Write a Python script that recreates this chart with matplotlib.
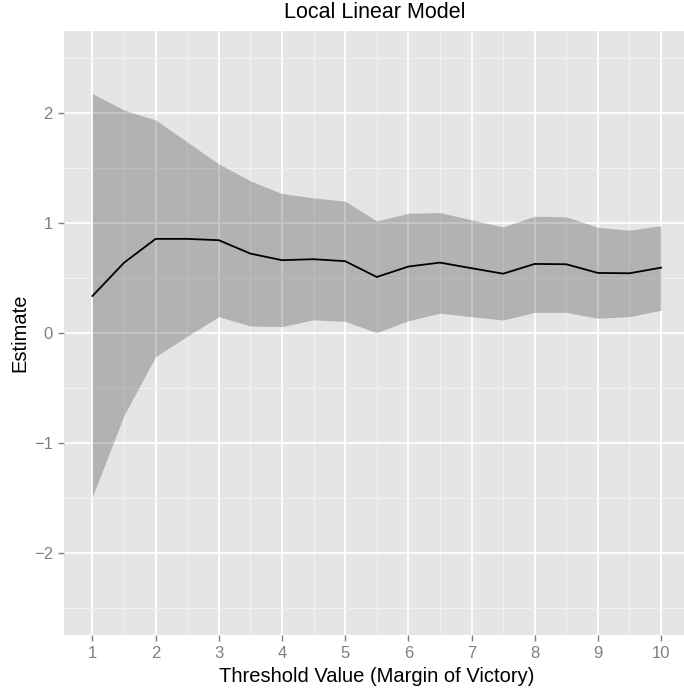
import matplotlib
matplotlib.use("Agg")
import matplotlib.pyplot as plt
import numpy as np

threshold = [1, 1.5, 2, 2.5, 3, 3.5, 4, 4.5, 5, 5.5, 6, 6.5, 7, 7.5, 8, 8.5, 9, 9.5, 10]
estimate = [0.337, 0.64, 0.857, 0.857, 0.845, 0.723, 0.663, 0.672, 0.654, 0.51,
            0.605, 0.641, 0.59, 0.54, 0.629, 0.626, 0.547, 0.544, 0.595]
upper = [2.18, 2.03, 1.94, 1.74, 1.54, 1.385, 1.27, 1.23, 1.20, 1.02,
         1.09, 1.097, 1.03, 0.966, 1.064, 1.057, 0.963, 0.936, 0.978]
lower = [-1.49, -0.75, -0.216, -0.03, 0.149, 0.064, 0.058, 0.12, 0.106, 0.003,
         0.112, 0.18, 0.149, 0.118, 0.188, 0.188, 0.134, 0.149, 0.207]
xticks = [1, 2, 3, 4, 5, 6, 7, 8, 9, 10]
yticks = [-2, -1, 0, 1, 2]

plt.rcParams['font.family'] = ['Liberation Sans', 'DejaVu Sans']

W, H = 684, 690
fig = plt.figure(figsize=(W / 100, H / 100), dpi=100)
# panel spans px 64..689 horizontally (cropped at the right edge), 31..635 vertically
ax = fig.add_axes([64 / W, 1 - 635 / H, (689.5 - 64) / W, (635 - 31) / H])

ax.set_facecolor("#E5E5E5")
for s in ax.spines.values():
    s.set_visible(False)

ax.set_xlim(0.55, 10.45)
ax.set_ylim(-2.75, 2.75)
ax.set_xticks(xticks)
ax.set_yticks(yticks)
ax.set_xticks(np.arange(1.5, 10, 1), minor=True)
ax.set_yticks(np.arange(-2.5, 2.6, 1), minor=True)
ax.set_yticklabels(["\u22122", "\u22121", "0", "1", "2"])

ax.grid(which="major", color="white", lw=1.3)
ax.grid(which="minor", color="#F2F2F2", lw=0.7)
ax.set_axisbelow(True)
ax.tick_params(which="major", length=4, width=1, color="#7F7F7F",
               labelcolor="#7F7F7F", labelsize=12, pad=4)
ax.tick_params(which="minor", length=0)

ax.fill_between(threshold, lower, upper, color="black", alpha=0.22, lw=0)
ax.plot(threshold, estimate, color="black", lw=1.3)

ax.set_xlabel("Threshold Value (Margin of Victory)", fontsize=14.5, labelpad=4)
ax.set_ylabel("Estimate", fontsize=14.5, labelpad=3)
fig.text(375 / W, 1 - 12 / H, "Local Linear Model", fontsize=15.5,
         ha="center", va="center")

fig.savefig("out.png", dpi=100)
